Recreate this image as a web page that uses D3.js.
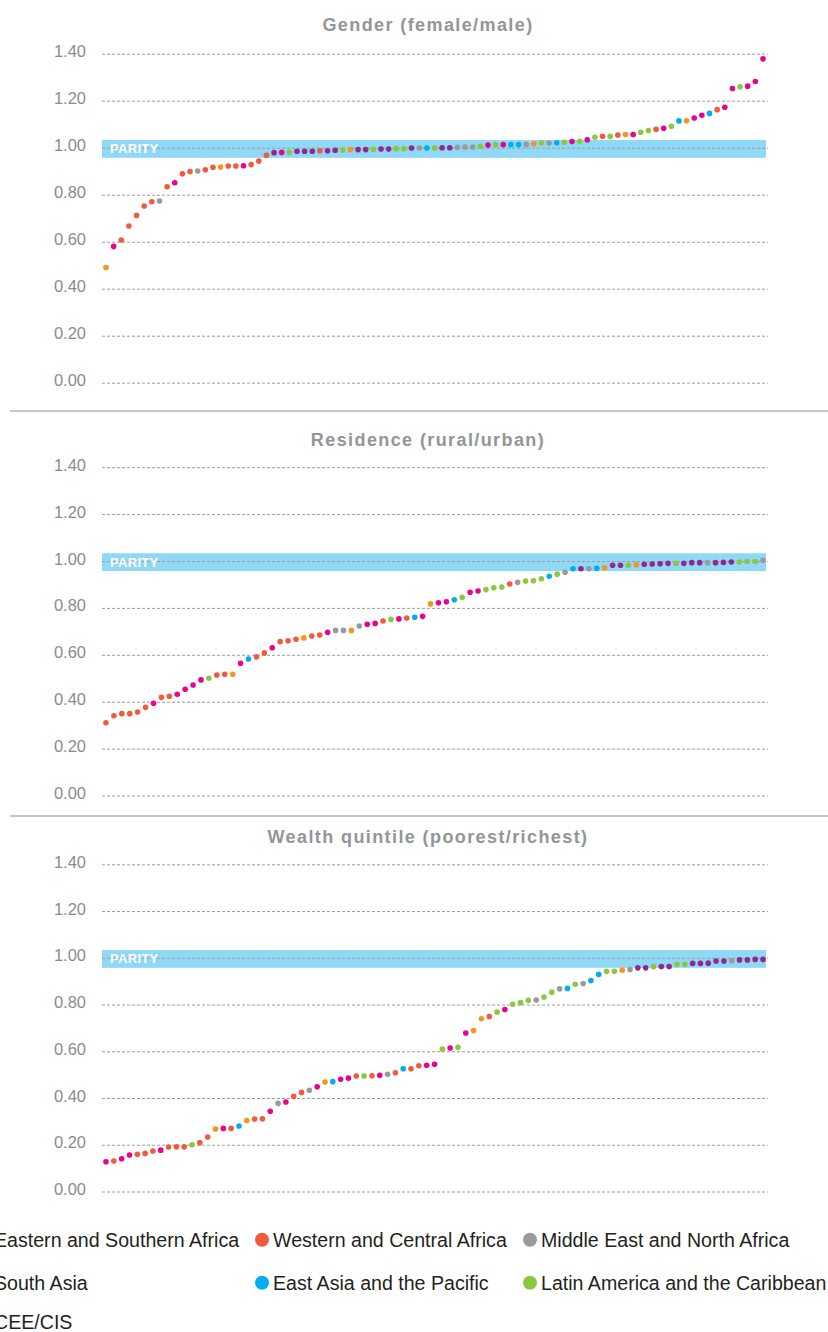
<!DOCTYPE html>
<html><head><meta charset="utf-8">
<script src="https://cdn.jsdelivr.net/npm/d3@7"></script>
<style>
html,body{margin:0;padding:0;background:#fff;overflow:hidden}
svg{display:block}
</style></head>
<body>
<script>
// ---------- DATA ----------
const regionNames = ["Eastern and Southern Africa","Western and Central Africa","Middle East and North Africa","South Asia","East Asia and the Pacific","Latin America and the Caribbean","CEE/CIS"];
const regionCodes = ["ESA","WCA","MENA","SA","EAP","LAC","CEE"];
const regionColors = ["#ec008c","#f15a3d","#9a9a9c","#f7941d","#00aeef","#8dc63f","#92278f"];
const tickValues = [0,0.2,0.4,0.6,0.8,1.0,1.2,1.4];
const panelTitles = ["Gender (female/male)","Residence (rural/urban)","Wealth quintile (poorest/richest)"];
const parityLabel = "PARITY";
const parityBand = [0.957,1.033];

const genderValues = [0.49,0.58,0.607,0.667,0.712,0.752,0.770,0.773,0.834,0.851,0.889,0.899,0.901,0.906,0.917,0.918,0.922,0.922,0.923,0.928,0.943,0.968,0.979,0.980,0.980,0.985,0.985,0.985,0.987,0.987,0.989,
0.990,0.992,0.992,0.992,0.993,0.994,0.994,0.996,0.996,0.999,0.999,0.999,0.999,1.000,1.000,1.002,1.003,1.003,1.006,1.011,1.013,1.013,1.013,1.013,1.014,1.017,1.020,1.020,1.021,1.023,1.026,1.027,
1.034,1.044,1.049,1.049,1.054,1.056,1.056,1.066,1.073,1.078,1.083,1.091,1.114,1.115,1.126,1.138,1.146,1.162,1.172,1.252,1.259,1.262,1.282,1.378];
const genderRegions = ["SA","ESA","WCA","WCA","WCA","WCA","WCA","MENA","WCA","ESA","WCA","WCA","MENA","WCA","WCA","SA","WCA","WCA","ESA","WCA","WCA","WCA","CEE","ESA","LAC","CEE","CEE","CEE","WCA","CEE","CEE",
"LAC","SA","CEE","CEE","LAC","CEE","CEE","LAC","LAC","CEE","MENA","EAP","LAC","CEE","CEE","MENA","MENA","MENA","LAC","ESA","LAC","ESA","EAP","EAP","MENA","SA","LAC","MENA","EAP","LAC","ESA","LAC",
"ESA","LAC","WCA","LAC","WCA","SA","ESA","LAC","LAC","WCA","ESA","LAC","EAP","SA","ESA","ESA","EAP","WCA","ESA","ESA","LAC","ESA","ESA","ESA"];

const residenceValues = [0.310,0.340,0.349,0.349,0.356,0.376,0.393,0.419,0.423,0.432,0.453,0.471,0.493,0.500,0.514,0.517,0.517,0.564,0.582,0.591,0.608,0.630,0.656,0.660,0.666,0.672,0.680,0.684,0.696,0.704,
0.704,0.704,0.723,0.730,0.734,0.744,0.751,0.753,0.757,0.760,0.764,0.817,0.822,0.826,0.835,0.845,0.867,0.872,0.878,0.886,0.889,0.902,0.909,0.915,0.916,0.924,0.935,0.944,0.952,0.967,
0.967,0.967,0.969,0.971,0.982,0.982,0.982,0.984,0.986,0.987,0.988,0.990,0.990,0.990,0.993,0.993,0.993,0.993,0.994,0.996,0.996,0.998,0.998,1.003];
const residenceRegions = ["WCA","WCA","WCA","WCA","WCA","WCA","ESA","WCA","WCA","ESA","ESA","ESA","ESA","LAC","WCA","WCA","SA","ESA","EAP","WCA","WCA","ESA","WCA","WCA","WCA","SA","WCA","WCA","ESA","MENA",
"MENA","SA","MENA","ESA","ESA","WCA","LAC","ESA","WCA","EAP","ESA","SA","ESA","ESA","EAP","LAC","ESA","ESA","LAC","LAC","LAC","WCA","MENA","LAC","LAC","LAC","EAP","LAC","MENA","EAP",
"CEE","MENA","EAP","SA","CEE","CEE","LAC","SA","CEE","CEE","CEE","CEE","LAC","CEE","CEE","CEE","MENA","CEE","CEE","CEE","LAC","LAC","LAC","MENA"];

const wealthValues = [0.127,0.130,0.140,0.156,0.159,0.163,0.173,0.177,0.190,0.191,0.191,0.200,0.209,0.233,0.267,0.270,0.270,0.280,0.304,0.310,0.311,0.343,0.377,0.383,0.407,0.424,0.433,0.448,0.468,0.470,
0.480,0.485,0.494,0.494,0.495,0.497,0.502,0.508,0.525,0.525,0.538,0.540,0.544,0.609,0.614,0.617,0.678,0.689,0.739,0.749,0.768,0.779,0.801,0.808,0.818,0.819,0.832,0.853,0.867,0.869,
0.887,0.890,0.903,0.929,0.942,0.942,0.947,0.950,0.957,0.957,0.962,0.963,0.963,0.972,0.972,0.976,0.976,0.977,0.986,0.986,0.987,0.991,0.991,0.993,0.993];
const wealthRegions = ["ESA","WCA","ESA","ESA","WCA","WCA","WCA","ESA","WCA","WCA","WCA","LAC","WCA","WCA","SA","ESA","WCA","EAP","SA","WCA","WCA","ESA","MENA","ESA","WCA","WCA","MENA","ESA","SA","EAP",
"ESA","ESA","WCA","LAC","WCA","ESA","MENA","WCA","EAP","WCA","WCA","ESA","ESA","LAC","ESA","LAC","ESA","SA","SA","WCA","LAC","ESA","LAC","LAC","LAC","MENA","LAC","LAC","MENA","EAP",
"LAC","MENA","EAP","EAP","LAC","LAC","SA","MENA","CEE","CEE","LAC","CEE","CEE","LAC","LAC","CEE","CEE","CEE","CEE","CEE","MENA","CEE","CEE","CEE","CEE"];

// ---------- LAYOUT ----------
const W = 828, H = 1332;
const svg = d3.select("body").append("svg").attr("width", W).attr("height", H);
const FONT = "'Liberation Sans', Arial, Helvetica, sans-serif";
const color = d3.scaleOrdinal().domain(regionCodes).range(regionColors);

const panels = [
  {title: panelTitles[0], values: genderValues, regions: genderRegions, y0: 382.7, y14: 53.7, titleY: 30.7},
  {title: panelTitles[1], values: residenceValues, regions: residenceRegions, y0: 795.5, y14: 467.2, titleY: 446},
  {title: panelTitles[2], values: wealthValues, regions: wealthRegions, y0: 1191.5, y14: 864.3, titleY: 843}
];

const gridX0 = 102, gridX1 = 768;

panels.forEach((p) => {
  const g = svg.append("g");
  const y = d3.scaleLinear().domain([0, 1.4]).range([p.y0, p.y14]);
  const x = d3.scalePoint().domain(d3.range(p.values.length)).range([106, 763]);

  // parity band
  g.append("rect")
    .attr("x", gridX0).attr("width", 766 - gridX0)
    .attr("y", y(parityBand[1])).attr("height", y(parityBand[0]) - y(parityBand[1]))
    .attr("fill", "#8fd8f6");

  // grid via axis
  const axis = d3.axisLeft(y).tickValues(tickValues).tickFormat(d3.format(".2f")).tickSize(-(gridX1 - gridX0)).tickPadding(16);
  const ag = g.append("g").attr("transform", `translate(${gridX0},0)`).call(axis);
  ag.select(".domain").remove();
  ag.selectAll(".tick line").attr("stroke", "#9d9d9d").attr("stroke-width", 1).attr("stroke-dasharray", "3,2");
  ag.selectAll(".tick text")
    .attr("x", 86 - gridX0).attr("dy", null).attr("y", 3)
    .attr("fill", "#8c8c8c").attr("font-size", "16.5px").attr("font-family", FONT)
    .attr("text-anchor", "end").attr("dominant-baseline", "alphabetic");

  // parity label
  g.append("text").attr("x", 110).attr("y", y(1) + 5.6)
    .attr("fill", "#fff").attr("font-weight", "bold").attr("font-size", "13px")
    .attr("font-family", FONT).attr("letter-spacing", "0.3px").text(parityLabel);

  // title
  g.append("text").attr("x", 428).attr("y", p.titleY)
    .attr("text-anchor", "middle").attr("fill", "#939598").attr("font-weight", "bold")
    .attr("font-size", "18px").attr("letter-spacing", "1.4px").attr("font-family", FONT)
    .text(p.title);

  // dots
  g.append("g").selectAll("circle").data(p.values).join("circle")
    .attr("cx", (d, i) => x(i)).attr("cy", d => y(d)).attr("r", 2.8)
    .attr("fill", (d, i) => color(p.regions[i]));
});

// dividers
[411, 816].forEach(yy => {
  svg.append("line").attr("x1", 10).attr("x2", W).attr("y1", yy).attr("y2", yy)
    .attr("stroke", "#b5b5b5").attr("stroke-width", 1.5);
});

// legend
const legendOrder = [
  {code: "ESA", col: 0, row: 0}, {code: "WCA", col: 1, row: 0}, {code: "MENA", col: 2, row: 0},
  {code: "SA", col: 0, row: 1}, {code: "EAP", col: 1, row: 1}, {code: "LAC", col: 2, row: 1},
  {code: "CEE", col: 0, row: 2}
];
const colTextX = [-6, 273, 541];
const rowBase = [1246.5, 1289.5, 1328.5];
const lg = svg.append("g");
legendOrder.forEach(it => {
  const idx = regionCodes.indexOf(it.code);
  lg.append("circle").attr("cx", colTextX[it.col] - 11).attr("cy", rowBase[it.row] - 6.7).attr("r", 7)
    .attr("fill", regionColors[idx]);
  lg.append("text").attr("x", colTextX[it.col]).attr("y", rowBase[it.row])
    .attr("font-size", "19.6px").attr("font-family", FONT).attr("fill", "#231f20")
    .text(regionNames[idx]);
});
</script>
</body></html>
